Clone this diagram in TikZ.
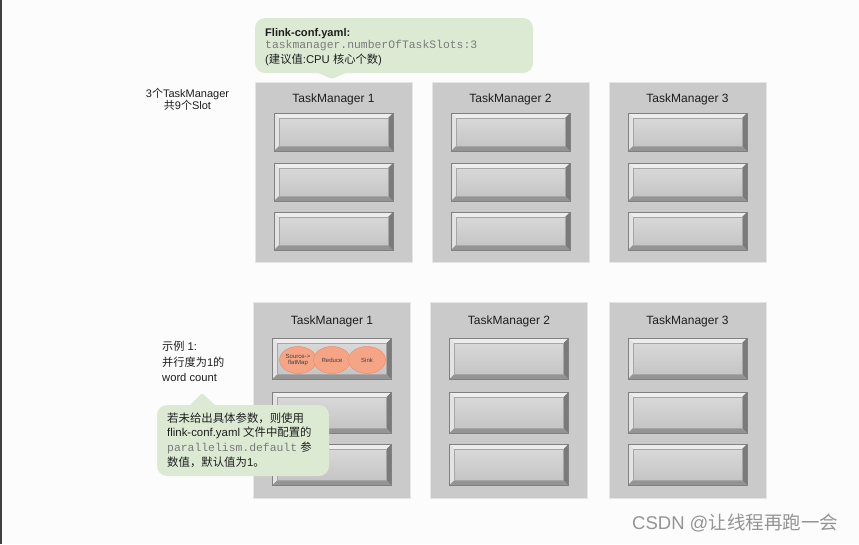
\documentclass[tikz,border=0pt]{standalone}
\usepackage{fontspec}
\setmainfont{Liberation Sans}
\setmonofont{Liberation Mono}
\newfontfamily\cjk{Noto Sans CJK SC}
\usetikzlibrary{shapes.geometric}
\newcommand\zhs[1]{{\cjk #1}}
\definecolor{bg}{HTML}{FCFCFC}
\definecolor{callfill}{HTML}{DCEAD4}
\definecolor{tmfill}{HTML}{CACACA}
\definecolor{ellfill}{HTML}{F5A586}
\definecolor{elldraw}{HTML}{E8906E}
\definecolor{monogray}{HTML}{7A7A7A}
\definecolor{txt}{HTML}{1E1E1E}
\tikzset{
  tmbox/.style={draw=black!10, line width=0.8pt, fill=tmfill, minimum width=157pt, inner sep=0pt},
  tmtitle/.style={anchor=base, font=\fontsize{12pt}{14pt}\selectfont, text=txt, inner sep=0pt},
  slotbox/.style={draw=black!50, line width=0.5pt, minimum width=119pt, inner sep=0pt,
    top color=black!14, bottom color=black!24,
    path picture={
      \coordinate (pnw) at (path picture bounding box.north west);
      \coordinate (pse) at (path picture bounding box.south east);
      \coordinate (pne) at (path picture bounding box.north east);
      \coordinate (psw) at (path picture bounding box.south west);
      \fill[black!7] (pnw) -- (pne) -- ([shift={(-5pt,-5pt)}]pne) -- ([shift={(5pt,-5pt)}]pnw) -- cycle;
      \fill[black!11] (pnw) -- (psw) -- ([shift={(5pt,5pt)}]psw) -- ([shift={(5pt,-5pt)}]pnw) -- cycle;
      \fill[black!42] (psw) -- (pse) -- ([shift={(-5pt,5pt)}]pse) -- ([shift={(5pt,5pt)}]psw) -- cycle;
      \fill[black!52] (pne) -- (pse) -- ([shift={(-5pt,5pt)}]pse) -- ([shift={(-5pt,-5pt)}]pne) -- cycle;
      \draw[black!35, line width=0.4pt] ([shift={(5pt,-5pt)}]pnw) rectangle ([shift={(-5pt,5pt)}]pse);
    }},
  topslot/.style={slotbox, minimum height=38pt},
  botslot/.style={slotbox, minimum height=41pt},
  opnode/.style={ellipse, fill=ellfill, draw=elldraw, line width=0.5pt, minimum width=37pt, minimum height=27pt,
    inner sep=0pt, align=center, text=black!75, font=\fontsize{6pt}{6.5pt}\selectfont},
  calltext/.style={anchor=base west, inner sep=0pt, text=txt, font=\fontsize{11.3pt}{13pt}\selectfont},
  monotext/.style={text=monogray, font=\fontsize{11.4pt}{13pt}\ttfamily},
  sidetext/.style={inner sep=0pt, text=txt, font=\fontsize{11pt}{13pt}\selectfont},
}
\begin{document}
\begin{tikzpicture}[x=1pt, y=-1pt]
\fill[bg] (0,0) rectangle (859,544);
\useasboundingbox (0,0) rectangle (859,544);
\fill[black!75] (0,0) rectangle (2,544);

% ---------- top row ----------
\foreach \i/\cx in {1/333.5, 2/510.5, 3/687.5} {
  \node[tmbox, minimum height=180pt] (tt\i) at (\cx,172) {};
  \node[tmtitle] (ttl\i) at (\cx,102) {TaskManager \i};
  \node[topslot] (ts\i a) at (\cx,132) {};
  \node[topslot] (ts\i b) at (\cx,182) {};
  \node[topslot] (ts\i c) at (\cx,231) {};
}

% ---------- bottom row ----------
\foreach \i/\cx in {1/332, 2/509, 3/687.5} {
  \node[tmbox, minimum height=196pt] (bt\i) at (\cx,400) {};
  \node[tmtitle] (btl\i) at (\cx,324) {TaskManager \i};
  \node[botslot] (bs\i a) at (\cx,358.5) {};
  \node[botslot] (bs\i b) at (\cx,412.5) {};
  \node[botslot] (bs\i c) at (\cx,464.5) {};
}

% operators in slot 1 of TaskManager 1
\node[opnode] (src) at (298,360) {Source-\textgreater\\flatMap};
\node[opnode] (red) at (332,360) {Reduce};
\node[opnode] (snk) at (367,360) {Sink};

% ---------- top callout ----------
\fill[callfill, rounded corners=10pt] (255,18) rectangle (533,73);
\fill[callfill, rounded corners=1.5pt] (316,72) -- (332,79) -- (348,72) -- cycle;
\node[calltext, font=\fontsize{11.1pt}{13pt}\bfseries] (ct1) at (265,36) {Flink-conf.yaml:};
\node[calltext, monotext] (ct2) at (265,48) {taskmanager.numberOfTaskSlots:3};
\node[calltext] (ct3) at (265,63) {(\zhs{建议值}:CPU \zhs{核心个数})};

% ---------- left labels ----------
\node[sidetext, anchor=base] (lt1) at (187.5,97) {3\zhs{个}TaskManager};
\node[sidetext, anchor=base] (lt2) at (187.5,109.5) {\zhs{共}9\zhs{个}Slot};

\node[sidetext, anchor=base west, font=\fontsize{11.2pt}{13pt}\selectfont] (ex1) at (162,350) {\zhs{示例} 1:};
\node[sidetext, anchor=base west, font=\fontsize{11.2pt}{13pt}\selectfont] (ex2) at (162,366) {\zhs{并行度为}1\zhs{的}};
\node[sidetext, anchor=base west, font=\fontsize{11.2pt}{13pt}\selectfont] (ex3) at (162,381) {word count};

% ---------- bottom callout ----------
\fill[callfill, rounded corners=10pt] (157,405) rectangle (329,476);
\fill[callfill, rounded corners=1.5pt] (189,406) -- (202,393) -- (216,406) -- cycle;
\node[calltext, font=\fontsize{11.4pt}{13pt}\selectfont] (bc1) at (167,422) {\zhs{若未给出具体参数，则使用}};
\node[calltext, font=\fontsize{11.4pt}{13pt}\selectfont] (bc2) at (167,436) {flink-conf.yaml \zhs{文件中配置的}};
\node[calltext] (bc3) at (167,451) {{\color{monogray}\fontsize{11.4pt}{13pt}\ttfamily parallelism.default} \zhs{参}};
\node[calltext, font=\fontsize{11.4pt}{13pt}\selectfont] (bc4) at (167,466) {\zhs{数值，默认值为}1\zhs{。}};

% ---------- watermark ----------
\node[anchor=base west, inner sep=0pt, text=black!42, font=\fontsize{18.5pt}{20pt}\selectfont] (wm) at (632,529) {CSDN @\zhs{让线程再跑一会}};
\end{tikzpicture}
\end{document}
